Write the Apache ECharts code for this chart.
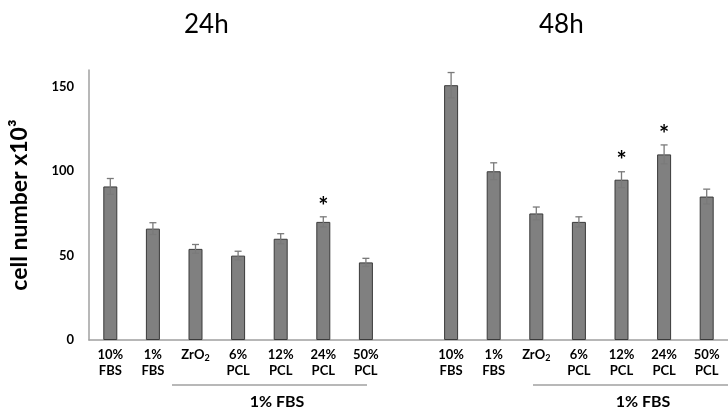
<!DOCTYPE html>
<html>
<head>
<meta charset="utf-8">
<script src="https://cdn.jsdelivr.net/npm/echarts@6/dist/echarts.min.js"></script>
<style>html,body{margin:0;padding:0;background:#fff}#c{width:728px;height:412px}</style>
</head>
<body>
<div id="c"></div>
<script>
const groupTitles = ['24h', '48h'];
const catLabels = ['10%\nFBS', '1%\nFBS', 'ZrO2', '6%\nPCL', '12%\nPCL', '24%\nPCL', '50%\nPCL'];
const values24 = [91, 66, 54, 50, 60, 70, 46];
const errors24 = [4.7, 3.5, 2.6, 2.6, 3.0, 3.0, 2.4];
const stars24 = [0, 0, 0, 0, 0, 1, 0];
const values48 = [151, 100, 75, 70, 95, 110, 85];
const errors48 = [7.5, 5.0, 3.8, 3.0, 4.7, 5.6, 4.4];
const stars48 = [0, 0, 0, 0, 1, 1, 0];
const yTicks = [0, 50, 100, 150];
const bracketLabel = '1% FBS';
const yTitle = 'cell number x10\u00b3';

const FONT = 'Lato';
const allLabels = catLabels.concat([''], catLabels);
const allValues = values24.concat(['-'], values48);
const allErrors = errors24.concat([0], errors48);
const allStars = stars24.concat([0], stars48);
const cats = allLabels.map((_, i) => String(i));
const errData = [];
allValues.forEach((v, i) => {
  if (v !== '-') errData.push([i, v - allErrors[i], v + allErrors[i], allStars[i]]);
});

const chart = echarts.init(document.getElementById('c'));
chart.setOption({
  animation: false,
  grid: { left: 81, top: 70, width: 660, height: 270 },
  xAxis: {
    type: 'category',
    data: cats,
    boundaryGap: true,
    axisLine: { lineStyle: { color: '#a0a0a0', width: 1.5 } },
    axisTick: { show: false },
    axisLabel: {
      interval: 0,
      margin: 7,
      color: '#000',
      fontFamily: FONT,
      fontWeight: 'bold',
      fontSize: 13,
      lineHeight: 16,
      formatter: (v, i) => {
        const s = allLabels[i];
        return s === 'ZrO2' ? 'ZrO{sub|2}' : s;
      },
      rich: {
        sub: { fontSize: 9, fontFamily: FONT, fontWeight: 'bold', color: '#000', padding: [6, 0, 0, 0] }
      }
    }
  },
  yAxis: {
    type: 'value',
    min: 0,
    max: 160,
    interval: 10,
    name: yTitle,
    nameLocation: 'middle',
    nameRotate: 90,
    nameGap: 58,
    nameTextStyle: { fontFamily: FONT, fontWeight: 'bold', fontSize: 23, color: '#000' },
    axisLine: { show: true, lineStyle: { color: '#a0a0a0', width: 1.5 } },
    axisTick: { show: false },
    splitLine: { show: false },
    axisLabel: {
      margin: 15,
      color: '#000',
      fontFamily: FONT,
      fontWeight: 'bold',
      fontSize: 13,
      showMaxLabel: false,
      formatter: v => (yTicks.indexOf(v) >= 0 ? String(v) : '')
    }
  },
  series: [
    {
      type: 'bar',
      data: allValues,
      barWidth: 14,
      itemStyle: { color: '#808080', borderColor: '#3a3a3a', borderWidth: 1 }
    },
    {
      type: 'custom',
      data: errData,
      z: 10,
      renderItem: (params, api) => {
        const x = api.value(0);
        const lo = api.coord([x, api.value(1)]);
        const hi = api.coord([x, api.value(2)]);
        const w = 3.5;
        const st = { stroke: '#7a7a7a', lineWidth: 1.3 };
        const children = [
          { type: 'line', shape: { x1: lo[0], y1: lo[1], x2: hi[0], y2: hi[1] }, style: st },
          { type: 'line', shape: { x1: hi[0] - w, y1: hi[1], x2: hi[0] + w, y2: hi[1] }, style: st },
          { type: 'line', shape: { x1: lo[0] - w, y1: lo[1], x2: lo[0] + w, y2: lo[1] }, style: st }
        ];
        if (api.value(3)) {
          children.push({
            type: 'text',
            style: { text: '*', x: hi[0], y: hi[1] - 10, align: 'center', verticalAlign: 'middle',
              font: 'bold 24px ' + FONT, fill: '#000' }
          });
        }
        return { type: 'group', children };
      }
    }
  ],
  graphic: [
    { type: 'text', left: 206 - 22, top: 12, style: { text: groupTitles[0], font: '26px ' + FONT, fill: '#000' } },
    { type: 'text', left: 561 - 22, top: 12, style: { text: groupTitles[1], font: '26px ' + FONT, fill: '#000' } },
    { type: 'line', shape: { x1: 172, y1: 385, x2: 367, y2: 385 }, style: { stroke: '#a0a0a0', lineWidth: 1.5 } },
    { type: 'line', shape: { x1: 533, y1: 385, x2: 728, y2: 385 }, style: { stroke: '#a0a0a0', lineWidth: 1.5 } },
    { type: 'text', x: 277, y: 402, style: { text: bracketLabel, font: 'bold 16px ' + FONT, fill: '#000', align: 'center', verticalAlign: 'middle' } },
    { type: 'text', x: 643, y: 402, style: { text: bracketLabel, font: 'bold 16px ' + FONT, fill: '#000', align: 'center', verticalAlign: 'middle' } }
  ]
});
</script>
</body>
</html>
